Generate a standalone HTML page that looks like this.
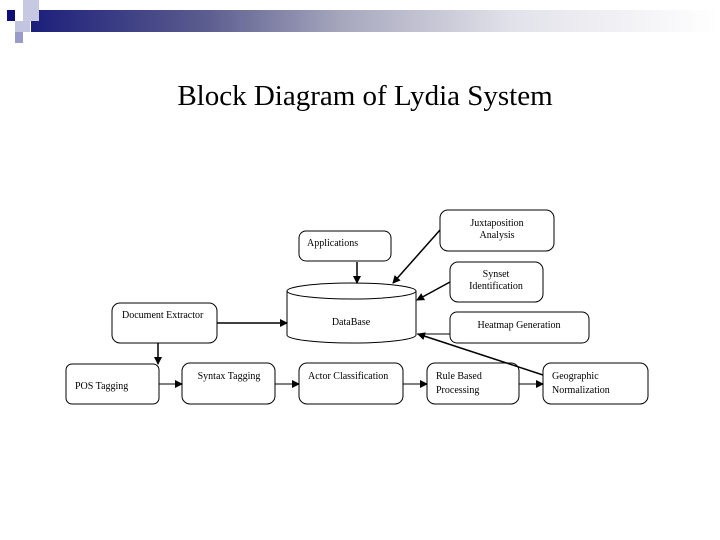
<!DOCTYPE html>
<html><head><style>
body{margin:0;width:720px;height:540px;background:#fff;overflow:hidden;position:relative;font-family:"Liberation Serif",serif}
</style></head><body>
<div style="position:absolute;left:31px;top:10px;width:689px;height:22px;background:linear-gradient(to right,#1c1f7a 0%,#5a5b8e 25%,#a6a7bd 45%,#e2e2ea 70%,#fff 100%)"></div>
<div style="position:absolute;left:23px;top:0;width:16px;height:21px;background:#c7c8e2"></div>
<div style="position:absolute;left:7px;top:10px;width:8px;height:11px;background:#0d0f75"></div>
<div style="position:absolute;left:15px;top:21px;width:15px;height:11px;background:#c3c4e0"></div>
<div style="position:absolute;left:15px;top:32px;width:8px;height:11px;background:#9a9bc8"></div>
<div style="position:absolute;left:0;top:80px;width:730px;text-align:center;font-size:29px;color:#000">Block Diagram of Lydia System</div>
<svg width="720" height="540" style="position:absolute;left:0;top:0" font-family="Liberation Serif, serif" font-size="10">
<defs><marker id="a" markerWidth="8" markerHeight="8" refX="7" refY="4" orient="auto" markerUnits="userSpaceOnUse"><path d="M0,0L8,4L0,8z" fill="#000"/></marker></defs>
<g fill="#fff" stroke="#000" stroke-width="1">
<rect x="299" y="231" width="92" height="30" rx="7"/>
<rect x="440" y="210" width="114" height="41" rx="8"/>
<rect x="450" y="262" width="93" height="40" rx="8"/>
<rect x="450" y="312" width="139" height="31" rx="7"/>
<rect x="112" y="303" width="105" height="40" rx="8"/>
<rect x="66" y="364" width="93" height="40" rx="6"/>
<rect x="182" y="363" width="93" height="41" rx="8"/>
<rect x="299" y="363" width="104" height="41" rx="8"/>
<rect x="427" y="363" width="92" height="41" rx="8"/>
<rect x="543" y="363" width="105" height="41" rx="8"/>
<path d="M287,291 L287,335 A64.5,8 0 0 0 416,335 L416,291"/>
<ellipse cx="351.5" cy="291" rx="64.5" ry="8"/>
</g>
<g stroke="#000" stroke-width="1.5" fill="none">
<line x1="357" y1="262" x2="357" y2="283" marker-end="url(#a)"/>
<line x1="440" y1="230" x2="393" y2="283" marker-end="url(#a)"/>
<line x1="450" y1="282" x2="417" y2="300" marker-end="url(#a)"/>
<line x1="450" y1="334" x2="417" y2="334" stroke-width="1"/>
<line x1="543" y1="375" x2="418" y2="334" marker-end="url(#a)"/>
<line x1="217" y1="323" x2="287" y2="323" marker-end="url(#a)"/>
<line x1="158" y1="343" x2="158" y2="364" marker-end="url(#a)"/>
<line x1="159" y1="384" x2="182" y2="384" stroke-width="1" marker-end="url(#a)"/>
<line x1="275" y1="384" x2="299" y2="384" stroke-width="1" marker-end="url(#a)"/>
<line x1="403" y1="384" x2="427" y2="384" stroke-width="1" marker-end="url(#a)"/>
<line x1="519" y1="384" x2="543" y2="384" stroke-width="1" marker-end="url(#a)"/>
</g>
<g fill="#000">
<text x="307" y="246">Applications</text>
<text x="497" y="226" text-anchor="middle">Juxtaposition</text>
<text x="497" y="238" text-anchor="middle">Analysis</text>
<text x="496" y="277" text-anchor="middle">Synset</text>
<text x="496" y="289" text-anchor="middle">Identification</text>
<text x="519" y="328" text-anchor="middle">Heatmap Generation</text>
<text x="351" y="325" text-anchor="middle">DataBase</text>
<text x="122" y="318">Document Extractor</text>
<text x="75" y="389">POS Tagging</text>
<text x="229" y="379" text-anchor="middle">Syntax Tagging</text>
<text x="308" y="379">Actor Classification</text>
<text x="436" y="379">Rule Based</text>
<text x="436" y="393">Processing</text>
<text x="552" y="379">Geographic</text>
<text x="552" y="393">Normalization</text>
</g>
</svg>
</body></html>
